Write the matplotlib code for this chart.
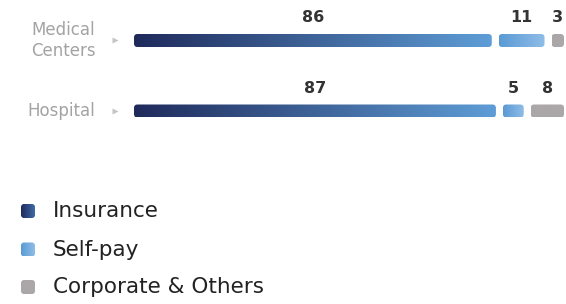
import numpy as np
import matplotlib
matplotlib.use("Agg")
import matplotlib.pyplot as plt
from matplotlib.patches import FancyBboxPatch
from matplotlib.colors import LinearSegmentedColormap

plt.rcParams['font.family'] = ['DejaVu Sans']

# data
categories = ['Medical\nCenters', 'Hospital']
series = ['Insurance', 'Self-pay', 'Corporate & Others']
values = [
    [86, 87],   # Insurance
    [11, 5],    # Self-pay
    [3, 8],     # Corporate & Others
]
grad_colors = [('#1f2a5b', '#5e9dd6'), ('#5a9ad4', '#8fbde8'), ('#aba7a9', '#aba7a9')]
legend_colors = [('#1f2a5b', '#3f6aa8'), ('#5a9ad4', '#8fbde8'), ('#aba7a9', '#aba7a9')]

W, H = 566, 304
fig = plt.figure(figsize=(W / 100, H / 100), dpi=100)

# main axes: x in value units, y in category index
px_per_unit = 4.16
px_per_row = 70.5
x0_px, y0_px = 134, 40.5
ax = fig.add_axes([0, 0, 1, 1])
ax.axis('off')
xlim = (-x0_px / px_per_unit, (W - x0_px) / px_per_unit)
ylim = ((H - y0_px) / px_per_row, -y0_px / px_per_row)

gap = 7 / px_per_unit
bar_h = 13 / px_per_row
r = 3.5 / px_per_unit
asp = px_per_unit / px_per_row


def grad_box(a, x, y, w, h, c0, c1, rad, aspect):
    patch = FancyBboxPatch((x, y), w, h, boxstyle=f"round,pad=0,rounding_size={rad}",
                           mutation_aspect=aspect, fc='none', ec='none')
    a.add_patch(patch)
    cmap = LinearSegmentedColormap.from_list('g', [c0, c1])
    im = a.imshow(np.linspace(0, 1, 256)[None, :], extent=(x, x + w, y + h, y),
                  cmap=cmap, aspect='auto', interpolation='bilinear')
    im.set_clip_path(patch)


for i, cat in enumerate(categories):
    left = 0
    for s in range(len(series)):
        v = values[s][i]
        c0, c1 = grad_colors[s]
        grad_box(ax, left, i - bar_h / 2, v, bar_h, c0, c1, r, asp)
        ax.annotate(str(v), (left + v / 2, i), xytext=(0, 22.5), textcoords='offset pixels',
                    ha='center', va='center', fontsize=11.5, fontweight='bold', color='#333333')
        left += v + gap
    ax.plot(-4.6, i, marker='>', ms=4, color='#c4c4c4', mec='none')
    ax.text(-9.3, i, cat, ha='right', va='center', multialignment='right',
            fontsize=12, color='#a3a3a3', linespacing=1.2)

ax.set_xlim(*xlim)
ax.set_ylim(*ylim)

# legend in pixel axes
lax = fig.add_axes([0, 0, 1, 1])
lax.axis('off')
leg_y = [211, 249.5, 287]
sq = 14
for s, name in enumerate(series):
    c0, c1 = legend_colors[s]
    grad_box(lax, 28 - sq / 2, leg_y[s] - sq / 2, sq, sq, c0, c1, 3, 1)
    lax.text(53, leg_y[s], name, ha='left', va='center', fontsize=15.5, color='#222222')
lax.set_xlim(0, W)
lax.set_ylim(H, 0)

fig.savefig('out.png', dpi=100)
